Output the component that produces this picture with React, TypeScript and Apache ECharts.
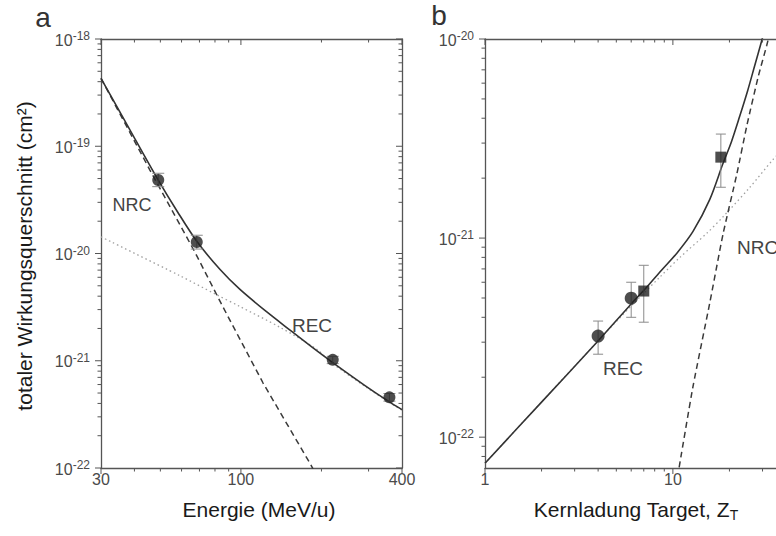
import React, { useEffect, useRef } from "react";
import * as echarts from "echarts";

// ---------- Panel a: cross section vs energy ----------
const energyMajorTicks = [30, 100, 400];
const energyMinorTicks = [40, 50, 60, 70, 80, 90, 200, 300];
const energyLabels = [30, 100, 400];
const sigmaADecades = [1e-22, 1e-21, 1e-20, 1e-19, 1e-18];

const totalAE = [30, 39.6, 49.1, 58, 68.4, 83.6, 99.2, 125, 152.6, 185, 220.4, 290, 359, 400];
const totalAS = [4.3e-19, 1.25e-19, 4.84e-20, 2.44e-20, 1.3e-20, 7.08e-21, 4.62e-21, 2.85e-21, 1.93e-21, 1.33e-21, 9.6e-22, 5.9e-22, 4.13e-22, 3.5e-22];

const nrcAE = [30, 45.7, 67.3, 85.7, 121, 181, 195];
const nrcAS = [4.3e-19, 6.0e-20, 1.03e-20, 3.17e-21, 6.2e-22, 1.11e-22, 7.9e-23];

const recAE = [30, 59.2, 80, 99.2, 140, 192, 220.4, 290, 359, 400];
const recAS = [1.43e-20, 6.2e-21, 4.2e-21, 3.2e-21, 2.05e-21, 1.28e-21, 9.4e-22, 5.8e-22, 4.08e-22, 3.46e-22];

const measAE = [49.1, 68.4, 220.4, 359];
const measAS = [4.84e-20, 1.28e-20, 1.02e-21, 4.56e-22];
const measALo = [4.2e-20, 1.1e-20, 9.4e-22, 4.2e-22];
const measAHi = [5.6e-20, 1.48e-20, 1.1e-21, 4.95e-22];

// ---------- Panel b: cross section vs target charge ----------
const zMajorTicks = [1, 10];
const zMinorTicks = [2, 3, 4, 5, 6, 7, 8, 9, 20, 30];
const zLabels = [1, 10];
const sigmaBDecades = [1e-22, 1e-21, 1e-20];

const totalBZ = [1, 2, 3.94, 6.05, 7.27, 8.7, 10.5, 12.8, 15.7, 18.45, 20.5, 22.7, 25, 27.2, 29.7, 31];
const totalBS = [7.4e-23, 1.5e-22, 3.0e-22, 4.71e-22, 5.68e-22, 6.9e-22, 8.4e-22, 1.08e-21, 1.56e-21, 2.36e-21, 3.05e-21, 4.1e-21, 5.5e-21, 7.3e-21, 9.8e-21, 1.15e-20];

const nrcBZ = [10.8, 12.8, 15.7, 18.5, 21.9, 24.8, 28.5, 31.6, 33];
const nrcBS = [7.06e-23, 1.8e-22, 4.7e-22, 1.05e-21, 2.1e-21, 3.7e-21, 6.5e-21, 9.3e-21, 1.1e-20];

const recBZ = [1, 3.94, 6.05, 8.53, 10.9, 15.2, 18.5, 25.7, 34, 40];
const recBS = [7.4e-23, 3.0e-22, 4.6e-22, 6.37e-22, 8.0e-22, 1.06e-21, 1.28e-21, 1.8e-21, 2.47e-21, 2.9e-21];

const circBZ = [4, 6];
const circBS = [3.22e-22, 4.99e-22];
const circBLo = [2.61e-22, 4.0e-22];
const circBHi = [3.83e-22, 6.0e-22];

const sqBZ = [7, 18];
const sqBS = [5.42e-22, 2.55e-21];
const sqBLo = [3.78e-22, 1.8e-21];
const sqBHi = [7.3e-22, 3.33e-21];

const FONT = "'Liberation Sans', Arial, Helvetica, sans-serif";
const AXIS = "#555";
const LABEL = "#4a4a4a";
const MAJOR_LEN = 6;
const MINOR_LEN = 3.5;

const zip = (xs: number[], ys: number[]) => xs.map((x, i) => [x, ys[i]]);
const zip3 = (xs: number[], a: number[], b: number[]) => xs.map((x, i) => [x, a[i], b[i]]);
const minorsOf = (decades: number[]) =>
  decades.flatMap((d) => [2, 3, 4, 5, 6, 7, 8, 9].map((k) => k * d));

const powFmt = (v: number) => {
  const e = Math.round(Math.log10(v));
  return `{b|10}{s|${e}}`;
};
const powRich = {
  b: { fontSize: 16, color: LABEL, fontFamily: FONT, verticalAlign: "bottom", lineHeight: 18, padding: [6, 0, 0, 0] },
  s: { fontSize: 12, color: LABEL, fontFamily: FONT, verticalAlign: "top", lineHeight: 13 },
};

function buildAxes(dim: "x" | "y", gridIndex: number, min: number, max: number, labels: number[], fmt: any, rich?: any) {
  const base = {
    type: "log",
    logBase: 10,
    gridIndex,
    min,
    max,
    splitLine: { show: false },
    minorTick: { show: false },
    axisTick: { show: false },
    silent: true,
  };
  const line = { show: true, onZero: false, lineStyle: { color: AXIS, width: 1.3 } };
  return [
    {
      ...base,
      position: dim === "x" ? "bottom" : "left",
      axisLine: line,
      axisLabel: {
        show: true,
        customValues: labels,
        formatter: fmt,
        rich,
        color: LABEL,
        fontSize: 16,
        fontFamily: FONT,
        margin: dim === "x" ? 3 : 11,
        hideOverlap: false,
        showMinLabel: true,
        showMaxLabel: true,
      },
    },
    {
      ...base,
      position: dim === "x" ? "top" : "right",
      axisLine: line,
      axisLabel: { show: false },
    },
  ];
}

// tick marks drawn through the axes' own scales: outward on bottom/left, inward on top/right
function tickSeries(
  xi: number,
  yi: number,
  dim: "x" | "y",
  xr: number[],
  yr: number[],
  majors: number[],
  minors: number[]
) {
  const items = [...majors.map((v) => [v, MAJOR_LEN]), ...minors.map((v) => [v, MINOR_LEN])];
  return {
    type: "custom",
    xAxisIndex: xi,
    yAxisIndex: yi,
    clip: false,
    silent: true,
    z: 6,
    encode: { x: 0, y: 1 },
    data: items.map(([v, len]) => (dim === "x" ? [v, yr[0], len] : [xr[0], v, len])),
    renderItem: (_p: any, api: any) => {
      const st = { stroke: AXIS, lineWidth: 1 };
      const len = api.value(2);
      if (dim === "x") {
        const v = api.value(0);
        const b = api.coord([v, yr[0]]);
        const t = api.coord([v, yr[1]]);
        return {
          type: "group",
          children: [
            { type: "line", shape: { x1: b[0], y1: b[1], x2: b[0], y2: b[1] + len }, style: st },
            { type: "line", shape: { x1: t[0], y1: t[1], x2: t[0], y2: t[1] + len }, style: st },
          ],
        };
      }
      const v = api.value(1);
      const l = api.coord([xr[0], v]);
      const r = api.coord([xr[1], v]);
      return {
        type: "group",
        children: [
          { type: "line", shape: { x1: l[0], y1: l[1], x2: l[0] - len, y2: l[1] }, style: st },
          { type: "line", shape: { x1: r[0], y1: r[1], x2: r[0] - len, y2: r[1] }, style: st },
        ],
      };
    },
  };
}

function errorBars(xi: number, yi: number, data: number[][], cap: number) {
  return {
    type: "custom",
    xAxisIndex: xi,
    yAxisIndex: yi,
    clip: false,
    z: 4,
    silent: true,
    encode: { x: 0, y: [1, 2] },
    data,
    renderItem: (_params: any, api: any) => {
      const x = api.value(0);
      const lo = api.coord([x, api.value(1)]);
      const hi = api.coord([x, api.value(2)]);
      const st = { stroke: "#8a8a8a", lineWidth: 1 };
      return {
        type: "group",
        children: [
          { type: "line", shape: { x1: lo[0], y1: lo[1], x2: hi[0], y2: hi[1] }, style: st },
          { type: "line", shape: { x1: lo[0] - cap, y1: lo[1], x2: lo[0] + cap, y2: lo[1] }, style: st },
          { type: "line", shape: { x1: hi[0] - cap, y1: hi[1], x2: hi[0] + cap, y2: hi[1] }, style: st },
        ],
      };
    },
  };
}

function lineSeries(xi: number, yi: number, data: number[][], kind: "solid" | "dashed" | "dotted", smooth: number) {
  const styles: any = {
    solid: { color: "#333", width: 1.6, type: "solid" },
    dashed: { color: "#3a3a3a", width: 1.5, type: [6, 4] },
    dotted: { color: "#a0a0a0", width: 1.3, type: [1.5, 3] },
  };
  return {
    type: "line",
    xAxisIndex: xi,
    yAxisIndex: yi,
    data,
    symbol: "none",
    smooth,
    clip: true,
    silent: true,
    z: kind === "solid" ? 3 : 2,
    lineStyle: styles[kind],
  };
}

function scatter(xi: number, yi: number, data: number[][], symbol: string, size: number) {
  return {
    type: "scatter",
    xAxisIndex: xi,
    yAxisIndex: yi,
    data,
    symbol,
    symbolSize: size,
    silent: true,
    z: 5,
    itemStyle: { color: "#222" },
  };
}

function txt(text: string, x: number, y: number, size: number, opts: any = {}) {
  return {
    type: "text",
    x,
    y,
    rotation: opts.rotation || 0,
    silent: true,
    style: {
      text,
      fill: opts.fill || "#333",
      fontSize: size,
      fontFamily: FONT,
      align: opts.align || "center",
      verticalAlign: "middle",
      rich: opts.rich,
    },
  };
}

export default function App() {
  const ref = useRef<HTMLDivElement>(null);
  useEffect(() => {
    if (!ref.current) return;
    const chart = echarts.init(ref.current, undefined, { renderer: "svg" });

    const exA = [30, 400];
    const syA = [1e-22, 1e-18];
    const zB = [1, 40];
    const syB = [7e-23, 1e-20];
    const intFmt = (v: number) => String(Math.round(v));

    const option: any = {
      animation: false,
      backgroundColor: "#fff",
      textStyle: { fontFamily: FONT },
      grid: [
        { left: 101, top: 39, width: 301, height: 429, outerBoundsMode: "none", containLabel: false },
        { left: 485, top: 39, width: 301, height: 429, outerBoundsMode: "none", containLabel: false },
      ],
      xAxis: [
        ...buildAxes("x", 0, exA[0], exA[1], energyLabels, intFmt),
        ...buildAxes("x", 1, zB[0], zB[1], zLabels, intFmt),
      ],
      yAxis: [
        ...buildAxes("y", 0, syA[0], syA[1], sigmaADecades, powFmt, powRich),
        ...buildAxes("y", 1, syB[0], syB[1], sigmaBDecades, powFmt, powRich),
      ],
      series: [
        // panel a
        tickSeries(0, 0, "x", exA, syA, energyMajorTicks, energyMinorTicks),
        tickSeries(0, 0, "y", exA, syA, sigmaADecades, minorsOf([1e-22, 1e-21, 1e-20, 1e-19])),
        lineSeries(0, 0, zip(recAE, recAS), "dotted", 0.3),
        lineSeries(0, 0, zip(nrcAE, nrcAS), "dashed", 0),
        lineSeries(0, 0, zip(totalAE, totalAS), "solid", 0.3),
        errorBars(0, 0, zip3(measAE, measALo, measAHi), 6),
        scatter(0, 0, zip(measAE, measAS), "circle", 12),
        // panel b
        tickSeries(2, 2, "x", zB, syB, zMajorTicks, zMinorTicks),
        tickSeries(2, 2, "y", zB, syB, sigmaBDecades, [8e-23, 9e-23, ...minorsOf([1e-22, 1e-21])]),
        lineSeries(2, 2, zip(recBZ, recBS), "dotted", 0.3),
        lineSeries(2, 2, zip(nrcBZ, nrcBS), "dashed", 0.2),
        lineSeries(2, 2, zip(totalBZ, totalBS), "solid", 0.3),
        errorBars(2, 2, zip3(circBZ, circBLo, circBHi), 5),
        errorBars(2, 2, zip3(sqBZ, sqBLo, sqBHi), 5),
        scatter(2, 2, zip(circBZ, circBS), "circle", 13),
        scatter(2, 2, zip(sqBZ, sqBS), "rect", 11),
      ],
      graphic: [
        txt("a", 43, 17, 28),
        txt("b", 439, 15, 28),
        txt("NRC", 132, 205, 18, { fill: "#444" }),
        txt("REC", 312, 325, 19, { fill: "#444" }),
        txt("REC", 623, 368, 19, { fill: "#444" }),
        txt("NRC", 737, 247, 19, { fill: "#444", align: "left" }),
        txt("Energie (MeV/u)", 259, 509, 21, { fill: "#1a1a1a" }),
        txt("Kernladung Target, Z{sub|T}", 636, 509, 21, {
          fill: "#1a1a1a",
          rich: { sub: { fontSize: 14, fill: "#1a1a1a", verticalAlign: "bottom", padding: [12, 0, 0, 0] } },
        }),
        txt("totaler Wirkungsquerschnitt (cm²)", 24, 256, 21, { fill: "#1a1a1a", rotation: Math.PI / 2 }),
      ],
    };
    chart.setOption(option);
    return () => chart.dispose();
  }, []);

  return (
    <div style={{ position: "fixed", left: 0, top: 0, width: 776, height: 536, overflow: "hidden", background: "#fff" }}>
      <div ref={ref} style={{ width: 776, height: 536 }} />
    </div>
  );
}
